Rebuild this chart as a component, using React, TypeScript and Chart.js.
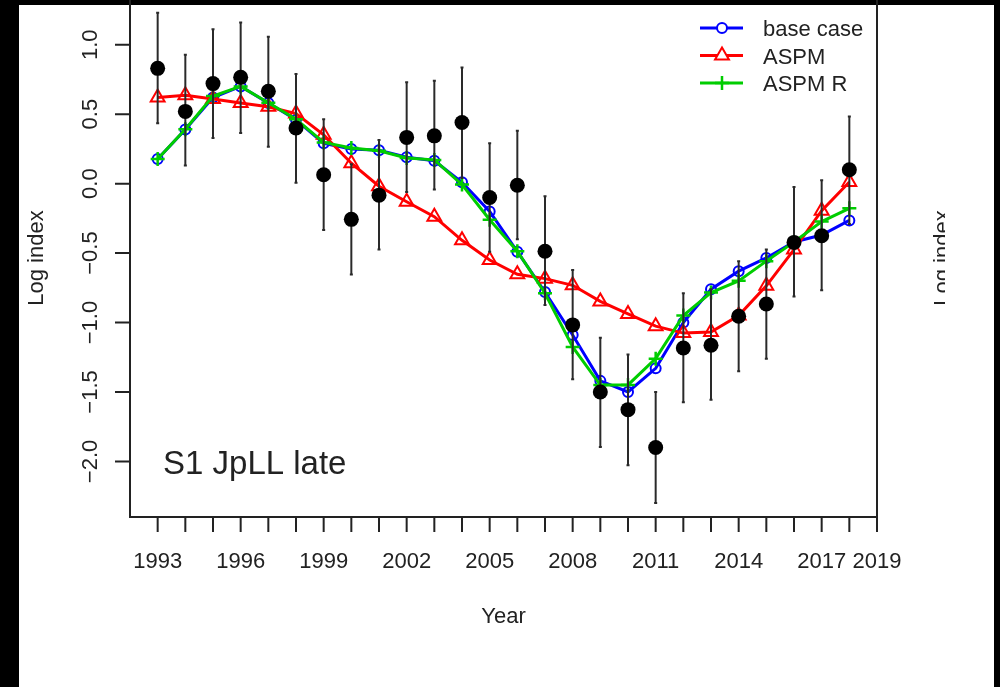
import React, { useEffect, useRef } from "react";
import { Chart, registerables } from "chart.js";
import { drawPoint } from "chart.js/helpers";

Chart.register(...registerables);

// Fishing years of the index
const years = [
  1993, 1994, 1995, 1996, 1997, 1998, 1999, 2000, 2001, 2002, 2003, 2004, 2005,
  2006, 2007, 2008, 2009, 2010, 2011, 2012, 2013, 2014, 2015, 2016, 2017, 2018,
];

// Observed log index with its interval
const observed = [
  0.83, 0.52, 0.72, 0.765, 0.665, 0.4, 0.064, -0.257, -0.083, 0.333, 0.344, 0.44,
  -0.1, -0.012, -0.487, -1.017, -1.5, -1.627, -1.9, -1.183, -1.164, -0.955,
  -0.867, -0.423, -0.375, 0.1,
];
const obsUpper = [
  1.23, 0.927, 1.112, 1.16, 1.057, 0.79, 0.463, 0.14, 0.314, 0.729, 0.741, 0.836,
  0.29, 0.38, -0.09, -0.622, -1.11, -1.231, -1.5, -0.789, -0.76, -0.558, -0.475,
  -0.024, 0.024, 0.483,
];
const obsLower = [
  0.435, 0.13, 0.328, 0.364, 0.266, 0.007, -0.333, -0.654, -0.475, -0.06, -0.043,
  0.04, -0.49, -0.4, -0.874, -1.409, -1.896, -2.027, -2.3, -1.573, -1.556, -1.35,
  -1.26, -0.813, -0.767, -0.29,
];

// Model fits
const baseCase = [
  0.178, 0.39, 0.62, 0.7, 0.58, 0.46, 0.29, 0.25, 0.24, 0.19, 0.165, 0.01, -0.2,
  -0.49, -0.78, -1.09, -1.42, -1.5, -1.33, -1.0, -0.76, -0.63, -0.535, -0.42,
  -0.37, -0.265,
];
const aspm = [
  0.62, 0.636, 0.61, 0.58, 0.554, 0.504, 0.351, 0.147, -0.019, -0.13, -0.238,
  -0.408, -0.55, -0.653, -0.684, -0.732, -0.848, -0.938, -1.026, -1.076, -1.069,
  -0.95, -0.736, -0.475, -0.195, 0.012,
];
const aspmR = [
  0.178, 0.392, 0.63, 0.7, 0.582, 0.463, 0.297, 0.257, 0.237, 0.185, 0.171,
  -0.007, -0.26, -0.487, -0.789, -1.176, -1.45, -1.449, -1.26, -0.95, -0.784,
  -0.7, -0.558, -0.42, -0.273, -0.178,
];

// Axis ticks and labels
const xTickYears = [
  1993, 1994, 1995, 1996, 1997, 1998, 1999, 2000, 2001, 2002, 2003, 2004, 2005,
  2006, 2007, 2008, 2009, 2010, 2011, 2012, 2013, 2014, 2015, 2016, 2017, 2018,
  2019,
];
const xLabelYears = [1993, 1996, 1999, 2002, 2005, 2008, 2011, 2014, 2017, 2019];
const yTicks = [-2, -1.5, -1, -0.5, 0, 0.5, 1];

const seriesNames = ["base case", "ASPM", "ASPM R"];
const seriesColors = ["#0000FF", "#FF0000", "#00CD00"];
const panelLabel = "S1 JpLL late";
const xTitle = "Year";
const yTitle = "Log index";

const FONT = '"Liberation Sans", Arial, Helvetica, sans-serif';
const INK = "#222222";

const toPoints = (vals: number[]) => years.map((x, i) => ({ x, y: vals[i] }));

const fmtY = (v: number) => {
  const s = Math.abs(v).toFixed(1);
  return v < 0 ? "\u2212" + s : s;
};

const markerStyles = [
  { pointStyle: "circle", radius: 5, borderWidth: 2 },
  { pointStyle: "triangle", radius: 8, borderWidth: 2 },
  { pointStyle: "cross", radius: 7, borderWidth: 2.5 },
];

// Error bars drawn just under the observed dots
const errorBars = {
  id: "errorBars",
  beforeDatasetDraw(chart: any, args: any) {
    if (args.index !== 0) return;
    const { ctx, scales } = chart;
    ctx.save();
    ctx.strokeStyle = "#2a2a2a";
    ctx.lineWidth = 2;
    years.forEach((yr, i) => {
      const px = scales.x.getPixelForValue(yr);
      const top = scales.y.getPixelForValue(obsUpper[i]);
      const bot = scales.y.getPixelForValue(obsLower[i]);
      ctx.beginPath();
      ctx.moveTo(px, top);
      ctx.lineTo(px, bot);
      ctx.stroke();
      ctx.beginPath();
      ctx.moveTo(px - 1.5, top);
      ctx.lineTo(px + 1.5, top);
      ctx.moveTo(px - 1.5, bot);
      ctx.lineTo(px + 1.5, bot);
      ctx.stroke();
    });
    ctx.restore();
  },
};

// Box, ticks, labels, legend and titles
const frame = {
  id: "frame",
  afterDraw(chart: any) {
    const { ctx, scales, chartArea } = chart;
    const { left, right, bottom } = chartArea;
    const x = scales.x;
    const y = scales.y;
    ctx.save();
    ctx.strokeStyle = INK;
    ctx.fillStyle = INK;
    ctx.lineWidth = 2;

    // box (top edge sits outside the visible panel)
    ctx.beginPath();
    ctx.moveTo(left, 0);
    ctx.lineTo(left, bottom);
    ctx.lineTo(right, bottom);
    ctx.lineTo(right, 0);
    ctx.stroke();

    // x ticks
    ctx.beginPath();
    xTickYears.forEach((yr) => {
      const px = x.getPixelForValue(yr);
      ctx.moveTo(px, bottom);
      ctx.lineTo(px, bottom + 15);
    });
    ctx.stroke();
    ctx.font = `22px ${FONT}`;
    ctx.textAlign = "center";
    ctx.textBaseline = "alphabetic";
    xLabelYears.forEach((yr) => {
      ctx.fillText(String(yr), x.getPixelForValue(yr), 568);
    });

    // y ticks
    ctx.beginPath();
    yTicks.forEach((v) => {
      const py = y.getPixelForValue(v);
      ctx.moveTo(left, py);
      ctx.lineTo(left - 15, py);
    });
    ctx.stroke();
    yTicks.forEach((v) => {
      const py = y.getPixelForValue(v);
      ctx.save();
      ctx.translate(97, py);
      ctx.rotate(-Math.PI / 2);
      ctx.fillText(fmtY(v), 0, 0);
      ctx.restore();
    });

    // axis titles
    ctx.fillText(xTitle, (left + right) / 2, 623);
    ctx.save();
    ctx.translate(43, 258);
    ctx.rotate(-Math.PI / 2);
    ctx.fillText(yTitle, 0, 0);
    ctx.restore();

    // neighbouring panel's axis title, cut at the panel edge
    ctx.save();
    ctx.beginPath();
    ctx.rect(900, 150, 45, 220);
    ctx.clip();
    ctx.translate(949, 258);
    ctx.rotate(-Math.PI / 2);
    ctx.fillText(yTitle, 0, 0);
    ctx.restore();

    // panel label
    ctx.font = `33px ${FONT}`;
    ctx.textAlign = "left";
    ctx.fillText(panelLabel, 163, 474);

    // legend
    ctx.font = `22px ${FONT}`;
    const rowY = [28, 55.5, 83];
    seriesNames.forEach((name, i) => {
      const ly = rowY[i];
      ctx.strokeStyle = seriesColors[i];
      ctx.lineWidth = 3;
      ctx.beginPath();
      ctx.moveTo(700, ly);
      ctx.lineTo(743, ly);
      ctx.stroke();
      ctx.fillStyle = "#ffffff";
      ctx.lineWidth = markerStyles[i].borderWidth;
      drawPoint(ctx, { ...markerStyles[i], rotation: 0 } as any, 722, ly);
      ctx.fillStyle = INK;
      ctx.fillText(name, 763, ly + 8);
    });
    ctx.restore();
  },
};

export default function App() {
  const canvasRef = useRef<HTMLCanvasElement | null>(null);

  useEffect(() => {
    const canvas = canvasRef.current;
    if (!canvas) return;

    const fitDataset = (label: string, vals: number[], i: number, order: number) => ({
      label,
      data: toPoints(vals),
      order,
      borderColor: seriesColors[i],
      backgroundColor: "rgba(255,255,255,0)",
      borderWidth: 3,
      pointStyle: markerStyles[i].pointStyle,
      pointRadius: markerStyles[i].radius,
      pointBorderWidth: markerStyles[i].borderWidth,
      pointBorderColor: seriesColors[i],
      pointBackgroundColor: "rgba(255,255,255,0)",
      tension: 0,
      clip: false,
    });

    const chart = new Chart(canvas, {
      type: "line",
      data: {
        datasets: [
          {
            label: "observed",
            data: toPoints(observed),
            order: 0,
            showLine: false,
            pointRadius: 7.5,
            pointBackgroundColor: "#000000",
            pointBorderColor: "#000000",
            pointBorderWidth: 0,
            clip: false,
          },
          fitDataset(seriesNames[2], aspmR, 2, 1),
          fitDataset(seriesNames[1], aspm, 1, 2),
          fitDataset(seriesNames[0], baseCase, 0, 3),
        ] as any,
      },
      options: {
        responsive: false,
        maintainAspectRatio: false,
        animation: false,
        layout: { padding: { left: 130, right: 123, top: 5, bottom: 170 } },
        scales: {
          x: { type: "linear", min: 1992, max: 2019, display: false },
          y: { type: "linear", min: -2.4, max: 1.25, display: false },
        },
        plugins: {
          legend: { display: false },
          tooltip: { enabled: false },
        },
      },
      plugins: [errorBars, frame],
    });

    return () => chart.destroy();
  }, []);

  return (
    <div
      style={{
        position: "fixed",
        left: 0,
        top: 0,
        width: 1000,
        height: 687,
        background: "#000000",
        overflow: "hidden",
      }}
    >
      <div
        style={{
          position: "absolute",
          left: 19,
          top: 5,
          width: 975,
          height: 682,
          background: "#ffffff",
        }}
      />
      <canvas
        ref={canvasRef}
        width={1000}
        height={687}
        style={{ position: "absolute", left: 0, top: 0, width: 1000, height: 687 }}
      />
    </div>
  );
}
